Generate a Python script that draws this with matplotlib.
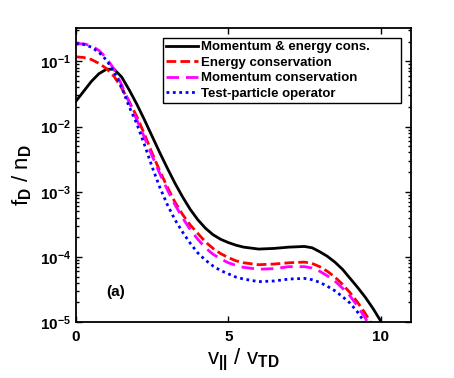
import numpy as np
import matplotlib
matplotlib.use('Agg')
import matplotlib.pyplot as plt
from matplotlib.ticker import FixedLocator, FixedFormatter, LogLocator, NullFormatter

plt.rcParams['font.family'] = ['Liberation Sans', 'DejaVu Sans']
plt.rcParams['font.weight'] = 'bold'
plt.rcParams['mathtext.fontset'] = 'custom'
plt.rcParams['mathtext.rm'] = 'Liberation Sans:bold'
plt.rcParams['mathtext.bf'] = 'Liberation Sans:bold'
plt.rcParams['mathtext.default'] = 'bf'

# velocity grid (v_|| / v_TD)
v = [0, 0.25, 0.5, 0.75, 1.0, 1.25, 1.5, 1.75, 2.0, 2.25, 2.5, 2.75, 3.0,
     3.25, 3.5, 3.75, 4.0, 4.25, 4.5, 4.75, 5.0, 5.25, 5.5, 6.0, 6.5, 7.0,
     7.5, 7.75, 8.0, 8.25, 8.5, 8.75, 9.0, 9.25, 9.5]
# last points, where each curve leaves the bottom of the plot
v_tail_both = [9.75, 10.0, 10.1]
v_tail_energy = [9.8]
v_tail_mom = [9.7]
v_tail_test = [9.6]

# log10(f_D / n_D) for each curve
log_both = [-1.61, -1.46, -1.31, -1.19, -1.12, -1.12, -1.24, -1.44, -1.66, -1.90,
            -2.15, -2.40, -2.64, -2.87, -3.08, -3.27, -3.43, -3.56, -3.66, -3.73,
            -3.78, -3.82, -3.85, -3.88, -3.87, -3.85, -3.84, -3.86, -3.92, -3.99,
            -4.08, -4.19, -4.33, -4.47, -4.62, -4.79, -4.98, -5.08]
log_energy = [-0.93, -0.94, -0.97, -1.03, -1.11, -1.23, -1.41, -1.62, -1.85, -2.12,
              -2.41, -2.68, -2.93, -3.16, -3.35, -3.51, -3.64, -3.77, -3.87, -3.95,
              -4.01, -4.06, -4.09, -4.12, -4.11, -4.09, -4.08, -4.10, -4.15, -4.22,
              -4.31, -4.42, -4.55, -4.70, -4.87, -5.10]
log_mom = [-0.73, -0.73, -0.76, -0.83, -0.95, -1.12, -1.36, -1.63, -1.90, -2.17,
           -2.45, -2.72, -2.97, -3.20, -3.40, -3.58, -3.73, -3.86, -3.96, -4.03,
           -4.09, -4.13, -4.16, -4.19, -4.18, -4.15, -4.15, -4.17, -4.22, -4.29,
           -4.37, -4.48, -4.60, -4.76, -4.94, -5.10]
log_test = [-0.73, -0.74, -0.78, -0.86, -0.98, -1.16, -1.40, -1.70, -1.96, -2.28,
            -2.62, -2.93, -3.20, -3.43, -3.62, -3.79, -3.94, -4.05, -4.14, -4.21,
            -4.26, -4.31, -4.34, -4.38, -4.37, -4.34, -4.33, -4.35, -4.39, -4.45,
            -4.52, -4.61, -4.71, -4.85, -5.02, -5.10]

labels = ['Momentum & energy cons.', 'Energy conservation',
          'Momentum conservation', 'Test-particle operator']

fig = plt.figure(figsize=(4.54, 3.78), dpi=100)
ax = fig.add_axes([0.1674, 0.148, 0.7379, 0.779])

ax.semilogy(v + v_tail_both, 10**np.array(log_both), color='black', lw=2.0,
            ls='-', label=labels[0])
ax.semilogy(v + v_tail_energy, 10**np.array(log_energy), color='red', lw=2.0,
            ls=(0, (3.5, 1.5)), label=labels[1])
ax.semilogy(v + v_tail_mom, 10**np.array(log_mom), color='magenta', lw=2.0,
            ls=(0, (4.5, 2.5)), label=labels[2])
ax.semilogy(v + v_tail_test, 10**np.array(log_test), color='blue', lw=2.0,
            ls=(0, (1, 1.3)), label=labels[3])

ax.set_xlim(0, 11)
ax.set_ylim(1e-5, 0.33)
ax.set_xticks([0, 5, 10])
ax.set_xticklabels(['0', '5', '10'])
decades = [1e-5, 1e-4, 1e-3, 1e-2, 1e-1]
ax.yaxis.set_major_locator(FixedLocator(decades))
ax.yaxis.set_major_formatter(FixedFormatter([r'$10^{-5}$', r'$10^{-4}$', r'$10^{-3}$',
                                             r'$10^{-2}$', r'$10^{-1}$']))
ax.yaxis.set_minor_locator(LogLocator(base=10, subs=np.arange(2, 10), numticks=20))
ax.yaxis.set_minor_formatter(NullFormatter())
ax.tick_params(which='both', direction='in', top=True, right=True, labelsize=11,
               width=1.0)
ax.tick_params(which='major', length=4)
ax.tick_params(which='minor', length=2.5)
ax.tick_params(axis='x', pad=6)
for s in ax.spines.values():
    s.set_linewidth(1.3)

ax.set_xlabel(r'v$_{||}$ / v$_{TD}$', fontsize=16, labelpad=2)
ax.set_ylabel(r'f$_{D}$ / n$_{D}$', fontsize=16, labelpad=4)

ax.text(1.3, 10**-4.54, '(a)', fontsize=11, ha='center', va='center')

leg = ax.legend(loc='upper left', bbox_to_anchor=(0.26, 0.744, 0.71, 0.222),
                mode='expand', borderaxespad=0,
                fontsize=9.5, fancybox=False, framealpha=1, edgecolor='black',
                handlelength=2.4, handletextpad=0.2, labelspacing=0.25,
                borderpad=0.25)
leg.get_frame().set_linewidth(1.0)

fig.savefig('out.png', dpi=100)
